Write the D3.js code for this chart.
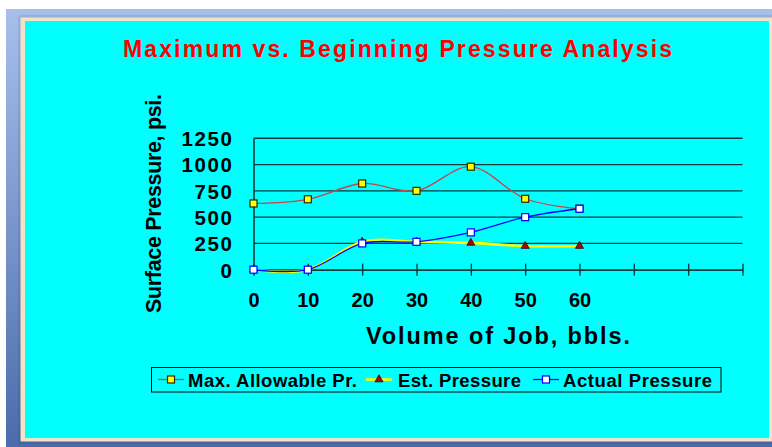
<!DOCTYPE html>
<html>
<head>
<meta charset="utf-8">
<script src="https://cdn.jsdelivr.net/npm/d3@7"></script>
<style>
  html, body { margin: 0; padding: 0; background: #ffffff; }
  svg { display: block; font-family: Arial, "Liberation Sans", sans-serif; }
</style>
</head>
<body>
<svg id="chart" width="772" height="447"></svg>
<script>
// Job volume (bbls) and pressure readings (psi)
const volumes = [0, 10, 20, 30, 40, 50, 60];
const maxAllowable = [630, 670, 820, 750, 980, 675, 580];
const estPressure = [0, 0, 265, 265, 255, 225, 225];
const actualPressure = [0, 0, 250, 265, 355, 500, 580];
const yTicks = [0, 250, 500, 750, 1000, 1250];
const xTicks = [0, 10, 20, 30, 40, 50, 60, 70, 80, 90];
const xTickLabels = ["0", "10", "20", "30", "40", "50", "60", "", "", ""];
const seriesNames = ["Max. Allowable Pr.", "Est. Pressure", "Actual Pressure"];

const svg = d3.select("#chart");

// Page backdrop and framed panel
const defs = svg.append("defs");
const grad = defs.append("linearGradient").attr("id", "bg").attr("x1", 0).attr("y1", 0).attr("x2", 0).attr("y2", 1);
grad.append("stop").attr("offset", "0%").attr("stop-color", "#a6bfec");
grad.append("stop").attr("offset", "100%").attr("stop-color", "#4b6cab");
svg.append("rect").attr("x", 6).attr("y", 9).attr("width", 766).attr("height", 438).attr("fill", "url(#bg)");
svg.append("rect").attr("x", 18).attr("y", 15).attr("width", 754).attr("height", 429).attr("fill", "#000").attr("opacity", 0.08);
svg.append("rect").attr("x", 20.5).attr("y", 17.5).attr("width", 751.5).attr("height", 424).attr("fill", "#f1e4c6");
svg.append("rect").attr("x", 25).attr("y", 21).attr("width", 744).attr("height", 417).attr("fill", "#00ffff");

const boldText = sel => sel.attr("font-weight", "bold").attr("font-family", "Arial, 'Liberation Sans', sans-serif");

// Title
svg.append("text")
  .attr("x", 123).attr("y", 57)
  .attr("textLength", 549).attr("lengthAdjust", "spacing")
  .attr("font-size", 23).attr("fill", "#ff0000")
  .call(boldText)
  .text("Maximum vs. Beginning Pressure Analysis");

// Scales
const x = d3.scaleLinear().domain([0, 90]).range([253.5, 742.5]);
const y = d3.scaleLinear().domain([0, 1250]).range([269.7, 138.3]);
const gridColor = "#063c3c";

// Horizontal gridlines
svg.append("g").selectAll("line").data(yTicks.filter(d => d > 0)).join("line")
  .attr("x1", x(0)).attr("x2", x(90))
  .attr("y1", d => y(d)).attr("y2", d => y(d))
  .attr("stroke", gridColor).attr("stroke-width", 1.4);

// Y axis
const yAxis = d3.axisLeft(y).tickValues(yTicks).tickSize(0).tickPadding(20).tickFormat(d3.format("d"));
const gy = svg.append("g").attr("transform", `translate(${x(0)},0)`).call(yAxis);
gy.select(".domain").attr("stroke", gridColor).attr("stroke-width", 1.6);
gy.selectAll("text")
  .attr("font-size", 20.5).attr("fill", "#000").call(boldText)
  .attr("letter-spacing", 1.6).attr("dy", "0.36em");

// X axis with ticks crossing the baseline
const xAxis = d3.axisBottom(x).tickValues(xTicks).tickSizeInner(6).tickSizeOuter(0)
  .tickFormat((d, i) => xTickLabels[i]).tickPadding(17);
const gx = svg.append("g").attr("transform", `translate(0,${y(0)})`).call(xAxis);
gx.select(".domain").attr("stroke", gridColor).attr("stroke-width", 1.8);
gx.selectAll(".tick line").attr("y1", -6).attr("y2", 6).attr("stroke", gridColor).attr("stroke-width", 1.4);
gx.selectAll("text").attr("font-size", 20).attr("fill", "#000").call(boldText);

// Axis titles
svg.append("text")
  .attr("x", 366).attr("y", 344)
  .attr("textLength", 264).attr("lengthAdjust", "spacing")
  .attr("font-size", 23.5).attr("fill", "#000").call(boldText)
  .text("Volume of Job, bbls.");
svg.append("text")
  .attr("transform", "translate(161,313) rotate(-90)")
  .attr("textLength", 219).attr("lengthAdjust", "spacing")
  .attr("font-size", 21.5).attr("fill", "#000").call(boldText)
  .text("Surface Pressure, psi.");

// Series
const curve = d3.curveCardinal.tension(0);
const lineGen = d3.line().x(d => x(d[0])).y(d => y(d[1])).curve(curve);
const series = [
  { name: seriesNames[0], values: maxAllowable, color: "#c94444", width: 1.3, marker: "square", fill: "#ffff00", mstroke: "#2a2a00" },
  { name: seriesNames[1], values: estPressure, color: "#ffff00", width: 2.6, marker: "triangle", fill: "#b00000", mstroke: "#300000" },
  { name: seriesNames[2], values: actualPressure, color: "#0000ff", width: 1.3, marker: "square", fill: "#ffffff", mstroke: "#0000ff" }
];

function drawMarker(g, kind, fill, stroke) {
  if (kind === "square") {
    g.append("rect").attr("x", -3.5).attr("y", -3.5).attr("width", 7).attr("height", 7)
      .attr("fill", fill).attr("stroke", stroke).attr("stroke-width", 1.2);
  } else {
    g.append("path").attr("d", d3.symbol(d3.symbolTriangle, 28)())
      .attr("fill", fill).attr("stroke", stroke).attr("stroke-width", 0.8);
  }
}

series.forEach(s => {
  const pts = volumes.map((v, i) => [v, s.values[i]]);
  svg.append("path").datum(pts).attr("d", lineGen)
    .attr("fill", "none").attr("stroke", s.color).attr("stroke-width", s.width);
  pts.forEach(p => {
    const g = svg.append("g").attr("transform", `translate(${x(p[0])},${y(p[1])})`);
    drawMarker(g, s.marker, s.fill, s.mstroke);
  });
});

// Legend
const legend = svg.append("g");
legend.append("rect").attr("x", 151.5).attr("y", 367.5).attr("width", 569.5).attr("height", 24.5)
  .attr("fill", "none").attr("stroke", "#000").attr("stroke-width", 1);
const legendItems = [
  { lx: 158, tx: 188, tl: 169 },
  { lx: 366, tx: 398, tl: 123 },
  { lx: 533, tx: 563, tl: 149 }
];
series.forEach((s, i) => {
  const it = legendItems[i];
  legend.append("line").attr("x1", it.lx).attr("x2", it.lx + 26).attr("y1", 379.5).attr("y2", 379.5)
    .attr("stroke", s.color).attr("stroke-width", s.width);
  const g = legend.append("g").attr("transform", `translate(${it.lx + 13},379.5)`);
  drawMarker(g, s.marker, s.fill, s.mstroke);
  legend.append("text").attr("x", it.tx).attr("y", 386.5)
    .attr("textLength", it.tl).attr("lengthAdjust", "spacing")
    .attr("font-size", 18.5).attr("fill", "#000").call(boldText)
    .text(s.name);
});
</script>
</body>
</html>
